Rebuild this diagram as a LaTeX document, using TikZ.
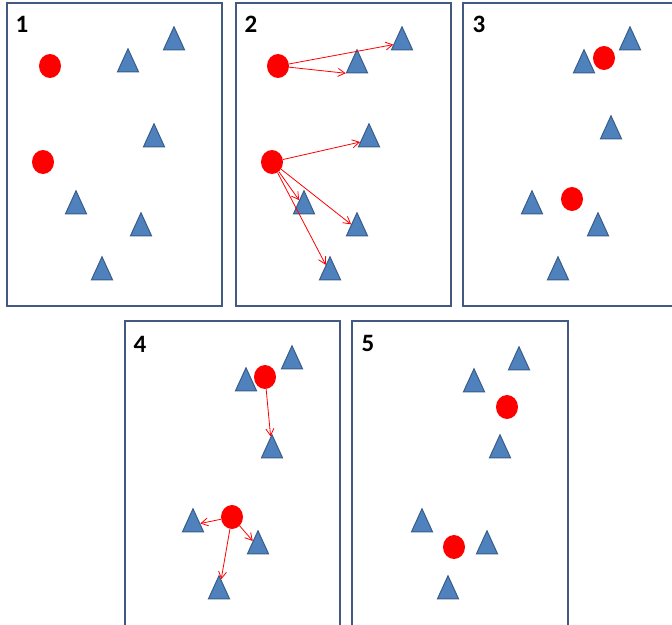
\documentclass[tikz,border=0pt]{standalone}
\usepackage{fontspec}
\setmainfont{Carlito}
\usetikzlibrary{shapes.geometric,arrows.meta}
\definecolor{framec}{RGB}{66,90,128}
\definecolor{trifill}{RGB}{79,129,189}
\definecolor{triline}{RGB}{56,93,138}
\tikzset{
  panel/.style={draw=framec,line width=2pt},
  tri/.style={isosceles triangle,isosceles triangle stretches,shape border rotate=90,
    minimum width=21pt,minimum height=23pt,inner sep=0pt,fill=trifill,draw=triline,line width=1pt},
  dot/.style={ellipse,minimum width=22pt,minimum height=24pt,inner sep=0pt,fill=red},
  link/.style={red,line width=0.8pt,-{Straight Barb[length=7pt,width=8pt]}},
  num/.style={font=\fontsize{25}{30}\selectfont\bfseries,inner sep=0pt}
}
\begin{document}
\begin{tikzpicture}[x=1pt,y=-1pt]
\useasboundingbox (0,0) rectangle (672,624);
\clip (0,0) rectangle (672,624);
% frames
\draw[panel] (7,3) rectangle (222,306);
\draw[panel] (236,3) rectangle (451,306);
\draw[panel] (463,3) rectangle (690,306);
\draw[panel] (125,321) rectangle (340,650);
\draw[panel] (352,321) rectangle (568,650);
% numbers
\node[num] (n1) at (22,24) {1};
\node[num] (n2) at (251,24) {2};
\node[num] (n3) at (479,24) {3};
\node[num] (n4) at (140,344) {4};
\node[num] (n5) at (368,343) {5};

% panel 1
\node[dot] (a1) at (50,66) {};
\node[dot] (a2) at (43,162) {};
\node[tri] (at1) at (128,65) {};
\node[tri] (at2) at (174,43) {};
\node[tri] (at3) at (154,140) {};
\node[tri] (at4) at (76,207) {};
\node[tri] (at5) at (141,229) {};
\node[tri] (at6) at (102,273) {};

% panel 2
\node[dot] (b1) at (278,66) {};
\node[dot] (b2) at (272,162) {};
\node[tri] (bt1) at (357,66) {};
\node[tri] (bt2) at (402,43) {};
\node[tri] (bt3) at (369,140) {};
\node[tri] (bt4) at (304,207) {};
\node[tri] (bt5) at (357,229) {};
\node[tri] (bt6) at (330,273) {};
\draw[link] (b1) -- (bt2);
\draw[link] (b1) -- (bt1.left corner);
\draw[link] (b2) -- (bt3);
\draw[link] (b2) -- (bt4);
\draw[link] (b2) -- (bt5);
\draw[link] (b2) -- (bt6);

% panel 3
\node[tri] (ct1) at (584,66) {};
\node[dot] (c1) at (604,58) {};
\node[tri] (ct2) at (630,43) {};
\node[tri] (ct3) at (611,132) {};
\node[dot] (c2) at (572,199) {};
\node[tri] (ct4) at (532,207) {};
\node[tri] (ct5) at (598,229) {};
\node[tri] (ct6) at (558,273) {};

% panel 4
\node[tri] (dt1) at (246,384) {};
\node[dot] (d1) at (265,377) {};
\node[tri] (dt2) at (292,362) {};
\node[tri] (dt3) at (272,451) {};
\node[dot] (d2) at (232,517) {};
\node[tri] (dt4) at (193,525) {};
\node[tri] (dt5) at (258,547) {};
\node[tri] (dt6) at (219,592) {};
\draw[link] (d1) -- (dt3);
\draw[link] (d2) -- (dt4);
\draw[link] (d2) -- (dt5);
\draw[link] (d2) -- (dt6);

% panel 5
\node[tri] (et1) at (519,363) {};
\node[tri] (et2) at (474,385) {};
\node[dot] (e1) at (507,407) {};
\node[tri] (et3) at (500,451) {};
\node[tri] (et4) at (422,525) {};
\node[dot] (e2) at (454,547) {};
\node[tri] (et5) at (487,547) {};
\node[tri] (et6) at (448,592) {};
\end{tikzpicture}
\end{document}
